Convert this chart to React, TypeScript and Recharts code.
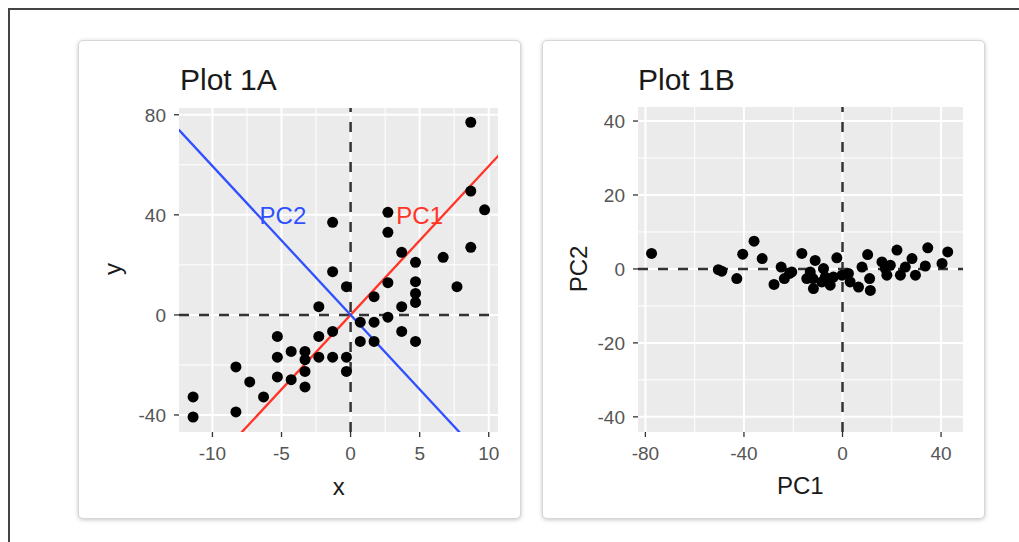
import React from 'react';
import { ScatterChart, Scatter, XAxis, YAxis, CartesianGrid, ReferenceLine, ReferenceDot } from 'recharts';

const FONT = '"Liberation Sans", Arial, Helvetica, sans-serif';

// Plot 1A: raw data
const rawX = [
  8.7, -1.3, 2.7, 2.7, 8.7, 9.7, 3.7, 4.7, 6.7, 8.7, -1.3, -0.3, 2.7, 4.7, 4.7, 4.7,
  1.7, 7.7, 3.7, -2.3, 2.7, 0.7, 1.7, -1.3, 3.7, -5.3, -2.3, 0.7, 1.7, 4.7, -4.3, -3.3,
  -5.3, -3.3, -2.3, -1.3, -0.3, -0.3, -3.3, -5.3, -4.3, -3.3, -8.3, -7.3, -6.3, -11.4,
  -11.4, -8.3,
];
const rawY = [
  77, 37, 41, 33, 49.5, 42, 25, 21, 23, 27, 17.3, 11.3, 12.9, 13.3, 8.6, 5,
  7.3, 11.3, 3.3, 3.3, -0.9, -2.9, -2.9, -6.6, -6.6, -8.6, -8.6, -10.6, -10.6, -10.6, -14.6, -14.6,
  -16.9, -17.9, -16.9, -16.9, -16.9, -22.6, -22.6, -24.8, -25.9, -28.8, -20.8, -26.8, -32.8, -32.8,
  -40.8, -38.8,
];

// Plot 1B: rotated scores
const pc1Scores = [
  -77.5, -50.4, -49, -42.9, -40.5, -35.9, -32.6, -27.8, -24.9, -23.6, -21.5, -20.6, -16.5, -14.5,
  -13.1, -12, -11.8, -11.1, -8.4, -7.7, -7, -5, -3.7, -2.3, -0.2, 2.4, 3.1, 6.5, 7.9, 10.2,
  11, 11.3, 16, 17.4, 18, 19.4, 22.1, 23.5, 25.5, 28.2, 29.6, 33.6, 34.6, 40.4, 42.7,
];
const pc2Scores = [
  4.2, -0.2, -0.6, -2.6, 4, 7.5, 2.8, -4.2, 0.5, -2.6, -1.2, -0.8, 4.2, -2.6,
  -0.8, -2.6, -5.3, 2.3, -3.5, 0.1, -2.2, -4.4, -2.2, 3, -1.7, -1.2, -3.5, -4.9, 0.5, 3.9,
  -2.6, -5.8, 1.9, 0.1, -1.7, 1, 5.1, -1.7, 0.5, 2.8, -1.7, 0.8, 5.7, 1.5, 4.6,
];

// principal axis lines drawn on Plot 1A
const pcNames = ['PC1', 'PC2'];
const pcSlopes = [5.95, -5.95];
const pcLabelX = [5.0, -4.9];
const pcLabelY = [39.6, 39.6];
const pcColors = ['#ff3326', '#3050ff'];

const ticksAX = [-10, -5, 0, 5, 10];
const ticksAY = [-40, 0, 40, 80];
const minorAX = [-7.5, -2.5, 2.5, 7.5];
const minorAY = [-20, 20, 60];
const domainAX: [number, number] = [-12.42, 10.67];
const domainAY: [number, number] = [-46.8, 82.7];

const ticksBX = [-80, -40, 0, 40];
const ticksBY = [-40, -20, 0, 20, 40];
const minorBX = [-60, -20, 20];
const minorBY = [-30, -10, 10, 30];
const domainBX: [number, number] = [-83, 48.9];
const domainBY: [number, number] = [-44.1, 43.8];

const dataA = rawX.map((x, i) => ({ x, y: rawY[i] }));
const dataB = pc1Scores.map((x, i) => ({ x, y: pc2Scores[i] }));

const Dot = (props: any) => <circle cx={props.cx} cy={props.cy} r={5.5} fill="#000" />;

const tickStyle = { fill: '#555', fontSize: 19, fontFamily: FONT };

const cardStyle: React.CSSProperties = {
  position: 'absolute',
  top: 40,
  width: 443,
  height: 479,
  boxSizing: 'border-box',
  border: '1px solid #d6d6d6',
  borderRadius: 5,
  boxShadow: '0 1px 4px rgba(0,0,0,0.22)',
  background: '#fff',
};

const textAbs = (extra: React.CSSProperties): React.CSSProperties => ({
  position: 'absolute',
  fontFamily: FONT,
  color: '#1a1a1a',
  whiteSpace: 'nowrap',
  ...extra,
});

function Panel({ data, domX, domY, ticksX, ticksY, minorX, minorY, margin, children }: any) {
  return (
    <ScatterChart width={441} height={477} margin={margin}>
      <CartesianGrid
        fill="#ebebeb"
        stroke="#fff"
        strokeWidth={1}
        horizontalValues={minorY}
        verticalValues={minorX}
      />
      <CartesianGrid stroke="#fff" strokeWidth={2} horizontalValues={ticksY} verticalValues={ticksX} />
      <XAxis
        type="number"
        dataKey="x"
        domain={domX}
        ticks={ticksX}
        allowDataOverflow
        axisLine={false}
        tickLine={{ stroke: '#333', strokeWidth: 1.3 }}
        tickSize={5}
        tickMargin={10}
        height={50}
        tick={tickStyle}
        interval={0}
      />
      <YAxis
        type="number"
        dataKey="y"
        domain={domY}
        ticks={ticksY}
        allowDataOverflow
        axisLine={false}
        tickLine={{ stroke: '#333', strokeWidth: 1.3 }}
        tickSize={5}
        tickMargin={8}
        width={60}
        tick={tickStyle}
        interval={0}
      />
      <ReferenceLine x={0} stroke="#333" strokeWidth={2.5} strokeDasharray="10 10" />
      <ReferenceLine y={0} stroke="#333" strokeWidth={2.5} strokeDasharray="10 10" />
      <Scatter data={data} shape={Dot} isAnimationActive={false} />
      {children}
    </ScatterChart>
  );
}

export default function App() {
  const lineSpan = 20;
  return (
    <div style={{ position: 'fixed', left: 0, top: 0, width: 1019, height: 542, background: '#fff', overflow: 'hidden' }}>
      <div
        style={{
          position: 'absolute',
          left: 8,
          top: 8,
          width: 1011,
          height: 534,
          boxSizing: 'border-box',
          borderTop: '2px solid #444',
          borderLeft: '2px solid #444',
        }}
      />

      <div style={{ ...cardStyle, left: 78 }}>
        <Panel
          data={dataA}
          domX={domainAX}
          domY={domainAY}
          ticksX={ticksAX}
          ticksY={ticksAY}
          minorX={minorAX}
          minorY={minorAY}
          margin={{ top: 67, right: 22, bottom: 36, left: 40 }}
        >
          {pcNames.map((name, i) => (
            <ReferenceLine
              key={name}
              segment={[
                { x: -lineSpan, y: -lineSpan * pcSlopes[i] },
                { x: lineSpan, y: lineSpan * pcSlopes[i] },
              ]}
              stroke={pcColors[i]}
              strokeWidth={2.3}
              ifOverflow="hidden"
            />
          ))}
          {pcNames.map((name, i) => (
            <ReferenceDot
              key={'lbl' + name}
              x={pcLabelX[i]}
              y={pcLabelY[i]}
              r={0}
              fill="none"
              stroke="none"
              label={{ value: name, position: 'center', fill: pcColors[i], fontSize: 24, fontFamily: FONT }}
            />
          ))}
        </Panel>
        <div style={textAbs({ left: 101, top: 23.6, fontSize: 30, lineHeight: '30px' })}>Plot 1A</div>
        <div style={textAbs({ left: 259.7 - 50, top: 434, width: 100, textAlign: 'center', fontSize: 24, lineHeight: '24px' })}>x</div>
        <div
          style={textAbs({
            left: 112.5 - 79,
            top: 228,
            fontSize: 24,
            lineHeight: '24px',
            transform: 'translate(-50%, -50%) rotate(-90deg)',
          })}
        >
          y
        </div>
      </div>

      <div style={{ ...cardStyle, left: 542 }}>
        <Panel
          data={dataB}
          domX={domainBX}
          domY={domainBY}
          ticksX={ticksBX}
          ticksY={ticksBY}
          minorX={minorBX}
          minorY={minorBY}
          margin={{ top: 66, right: 21, bottom: 36, left: 35 }}
        />
        <div style={textAbs({ left: 95, top: 23.6, fontSize: 30, lineHeight: '30px' })}>Plot 1B</div>
        <div style={textAbs({ left: 257.3 - 50, top: 433, width: 100, textAlign: 'center', fontSize: 24, lineHeight: '24px' })}>PC1</div>
        <div
          style={textAbs({
            left: 579 - 543,
            top: 228,
            fontSize: 24,
            lineHeight: '24px',
            transform: 'translate(-50%, -50%) rotate(-90deg)',
          })}
        >
          PC2
        </div>
      </div>
    </div>
  );
}
